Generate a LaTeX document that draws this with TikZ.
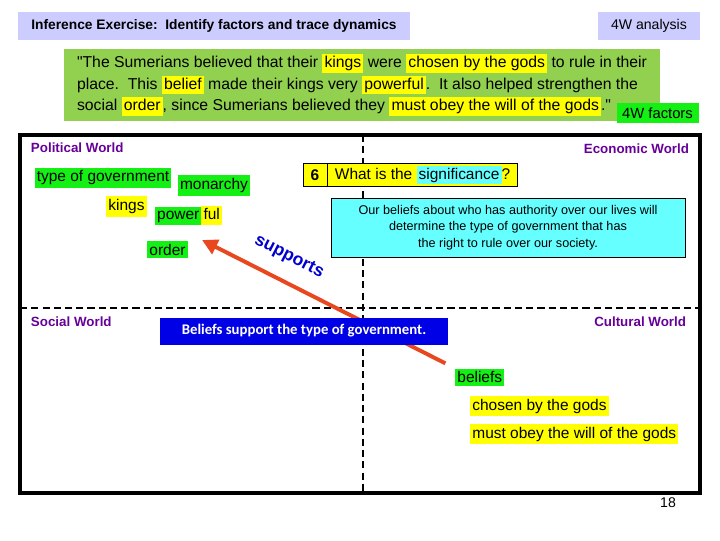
\documentclass[tikz,border=0pt]{standalone}
\usepackage{fontspec}
\setmainfont{Liberation Sans}
\newfontfamily\calibri{Carlito}
\usetikzlibrary{arrows.meta,positioning}

\definecolor{titlelav}{RGB}{204,204,255}
\definecolor{quotegreen}{RGB}{146,208,80}
\definecolor{factgreen}{RGB}{20,240,20}
\definecolor{markyellow}{RGB}{255,255,0}
\definecolor{worldpurple}{RGB}{102,0,153}
\definecolor{sigcyan}{RGB}{102,255,255}
\definecolor{arrowred}{RGB}{232,72,32}
\definecolor{beliefblue}{RGB}{0,0,230}
\definecolor{supportblue}{RGB}{0,0,204}

\newcommand{\markword}[2]{{\setlength{\fboxsep}{1.5pt}\colorbox{#1}{\vphantom{Ayg}#2}}}

\begin{document}
\begin{tikzpicture}[x=0.025cm,y=-0.025cm,
  worldlabel/.style={font=\fontsize{9.5}{11}\selectfont\bfseries,text=worldpurple},
  wordbox/.style={font=\fontsize{11}{13}\selectfont,inner xsep=1.5pt,inner ysep=2pt},
  greenword/.style={wordbox,fill=factgreen},
  yellowword/.style={wordbox,fill=markyellow},
  framedash/.style={line width=1.6pt,dash pattern=on 5pt off 3pt},
  supportarrow/.style={draw=arrowred,line width=2.8pt,-{Triangle[length=11pt,width=11pt]}}]
\useasboundingbox (0,0) rectangle (720,540);

% header
\node[fill=titlelav,minimum width=9.8cm,minimum height=0.7cm,font=\fontsize{9.8}{11}\selectfont\bfseries] (title) at (214,26) {Inference Exercise:\ \ Identify factors and trace dynamics};
\node[fill=titlelav,minimum width=2.55cm,minimum height=0.7cm,font=\fontsize{10}{12}\selectfont] (analysis) at (649,26) {4W analysis};

% the quote
\node[fill=quotegreen,minimum width=14.9cm,minimum height=1.8cm,align=left,font=\fontsize{11.2}{15}\selectfont] (quote) at (362,85) {\textquotedbl The Sumerians believed that their \markword{markyellow}{kings} were \markword{markyellow}{chosen by the gods} to rule in their\\
place.\ \ This \markword{markyellow}{belief} made their kings very \markword{markyellow}{powerful}.\ \ It also helped strengthen the\\
social \markword{markyellow}{order}, since Sumerians believed they \markword{markyellow}{must obey the will of the gods}.\textquotedbl};
\node[fill=factgreen,minimum width=2.05cm,minimum height=0.5cm,font=\fontsize{10.5}{12}\selectfont] (factors) at (657.5,113) {4W factors};

% four worlds
\draw[line width=2.2pt] (20,135) rectangle (700,493);
\draw[framedash] (363,135) -- (363,493);
\draw[framedash] (20,308) -- (700,308);

\node[worldlabel,anchor=west] (political) at (26,148) {Political World};
\node[worldlabel,anchor=east] (economic) at (694,149) {Economic World};
\node[worldlabel,anchor=west] (social) at (26,322) {Social World};
\node[worldlabel,anchor=east] (cultural) at (691,322) {Cultural World};

\node[greenword] (govtype) at (103,178) {type of government};
\node[greenword] (monarchy) at (214,185.5) {monarchy};
\node[yellowword] (kings) at (126.5,206.5) {kings};
\node[wordbox,inner sep=0pt] (powerful) at (188.5,215.5) {\markword{factgreen}{power}\markword{markyellow}{ful}};
\node[greenword] (order) at (167.5,249.5) {order};

\node[greenword,anchor=west] (beliefs) at (455,377) {beliefs};
\node[yellowword,anchor=west] (chosen) at (470,406) {chosen by the gods};
\node[yellowword,anchor=west] (obey) at (470,434) {must obey the will of the gods};

% beliefs support the government
\coordinate (supporttip) at (202,240);
\draw[supportarrow,shorten <=0.27cm] (beliefs.north west) -- (supporttip);
\node[rotate=-27,font=\fontsize{12.5}{14}\selectfont\bfseries,text=supportblue] (supportword) at (289,257) {supports};
\node[fill=beliefblue,minimum width=7.2cm,minimum height=0.675cm,text=white,font=\calibri\fontsize{10.5}{12}\selectfont\bfseries] (summary) at (304,331) {Beliefs support the type of government.};

% significance
\node[draw,fill=markyellow,minimum width=0.6cm,minimum height=0.575cm,inner sep=0pt,font=\fontsize{11}{13}\selectfont\bfseries] (sixbox) at (315,175) {6};
\node[draw,fill=markyellow,minimum width=4.75cm,minimum height=0.575cm,inner sep=0pt,font=\fontsize{11}{13}\selectfont,right=0pt of sixbox] (question) {What is the \markword{sigcyan}{significance}?};
\node[draw,fill=sigcyan,minimum width=8.85cm,minimum height=1.475cm,align=center,font=\fontsize{9}{11.9}\selectfont] (meaning) at (508,227.5) {Our beliefs about who has authority over our lives will\\determine the type of government that has\\the right to rule over our society.};

\node[font=\fontsize{10}{12}\selectfont] (pagenum) at (668,503) {18};
\end{tikzpicture}
\end{document}
